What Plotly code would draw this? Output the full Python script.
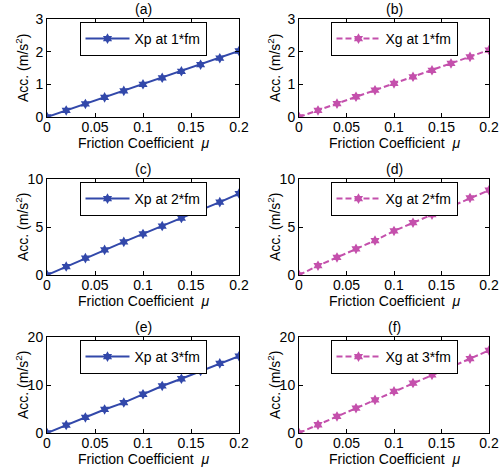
import plotly.graph_objects as go

mu = [0, 0.02, 0.04, 0.06, 0.08, 0.1, 0.12, 0.14, 0.16, 0.18, 0.2]
xp1 = [0, 0.2, 0.4, 0.6, 0.8, 1.0, 1.2, 1.4, 1.6, 1.8, 2.02]
xg1 = [0, 0.2, 0.41, 0.62, 0.82, 1.03, 1.23, 1.43, 1.64, 1.84, 2.05]
xp2 = [0, 0.88, 1.76, 2.62, 3.45, 4.28, 5.1, 5.93, 6.76, 7.59, 8.48]
xg2 = [0, 0.97, 1.83, 2.72, 3.59, 4.59, 5.45, 6.28, 7.1, 8.03, 8.83]
xp3 = [0, 1.66, 3.24, 4.9, 6.34, 8.07, 9.8, 11.3, 12.9, 14.5, 16.0]
xg3 = [0, 1.72, 3.45, 5.17, 6.9, 8.69, 10.4, 12.1, 13.8, 15.5, 17.2]

series = [xp1, xg1, xp2, xg2, xp3, xg3]
names = ["Xp at 1*fm", "Xg at 1*fm", "Xp at 2*fm", "Xg at 2*fm", "Xp at 3*fm", "Xg at 3*fm"]
panel_labels = ["(a)", "(b)", "(c)", "(d)", "(e)", "(f)"]
y_ranges = [[0, 3], [0, 3], [0, 10], [0, 10], [0, 20], [0, 20]]
y_dticks = [1, 1, 5, 5, 10, 10]
x_title = "Friction Coefficient  <i>μ</i>"
y_title = "Acc. (m/s<sup>2</sup>)"

BLUE = "rgb(50,72,170)"
MAG = "rgb(196,80,172)"
FONT = "Liberation Sans, Arial, sans-serif"

W, H = 500, 471
xdoms = [(47, 239), (299, 489)]
ydoms = [(19, 117), (179, 275), (337, 433)]

fig = go.Figure()
for i in range(6):
    r, c = divmod(i, 2)
    k = i + 1
    xa = "x" if k == 1 else f"x{k}"
    ya = "y" if k == 1 else f"y{k}"
    lg = "legend" if k == 1 else f"legend{k}"
    color = BLUE if c == 0 else MAG
    dash = "solid" if c == 0 else "6px,3px"
    fig.add_trace(go.Scatter(
        x=mu, y=series[i], mode="lines+markers", name=names[i],
        line=dict(color=color, width=2, dash=dash),
        marker=dict(symbol="hexagram", size=8, color=color),
        xaxis=xa, yaxis=ya, legend=lg, showlegend=True))
    x0, x1 = xdoms[c]
    y0, y1 = ydoms[r]
    ax_common = dict(showline=True, linecolor="black", linewidth=1, mirror="ticks",
                     ticks="inside", ticklen=4, tickcolor="black", showgrid=False,
                     zeroline=False, automargin=False,
                     tickfont=dict(family=FONT, size=14, color="black"))
    fig.layout[f"xaxis{k}" if k > 1 else "xaxis"] = dict(
        domain=[x0 / W, x1 / W], anchor=ya, range=[0, 0.2],
        tickvals=[0, 0.05, 0.1, 0.15, 0.2], ticktext=["0", "0.05", "0.1", "0.15", "0.2"],
        ticklabelstandoff=-3,
        **ax_common)
    fig.layout[f"yaxis{k}" if k > 1 else "yaxis"] = dict(
        domain=[1 - y1 / H, 1 - y0 / H], anchor=xa, range=y_ranges[i], dtick=y_dticks[i],
        **ax_common)
    fig.layout[lg] = dict(
        x=(x0 + x1) / 2 / W, y=1 - (y0 + 3) / H, xanchor="center", yanchor="top",
        bgcolor="white", bordercolor="black", borderwidth=1,
        font=dict(family=FONT, size=14, color="black"), itemwidth=44,
        tracegroupgap=0)
    tf = dict(family=FONT, size=14, color="black")
    fig.add_annotation(text=panel_labels[i], x=(x0 + x1) / 2 / W, y=1 - (y0 - 10) / H,
                       xref="paper", yref="paper", xanchor="center", yanchor="middle",
                       showarrow=False, font=tf)
    fig.add_annotation(text=x_title, x=(x0 + x1) / 2 / W, y=1 - (y1 + 26) / H,
                       xref="paper", yref="paper", xanchor="center", yanchor="middle",
                       showarrow=False, font=tf)
    fig.add_annotation(text=y_title, x=(x0 - 25) / W, y=1 - (y0 + y1) / 2 / H,
                       xref="paper", yref="paper", xanchor="center", yanchor="middle",
                       textangle=-90, showarrow=False, font=tf)

fig.update_layout(width=W, height=H, margin=dict(l=0, r=0, t=0, b=0, autoexpand=False),
                  paper_bgcolor="white", plot_bgcolor="white",
                  font=dict(family=FONT, size=14, color="black"))
fig.write_html("out.html", config={"displayModeBar": False},
               post_script="document.body.style.margin='0';document.body.style.overflow='hidden';")
